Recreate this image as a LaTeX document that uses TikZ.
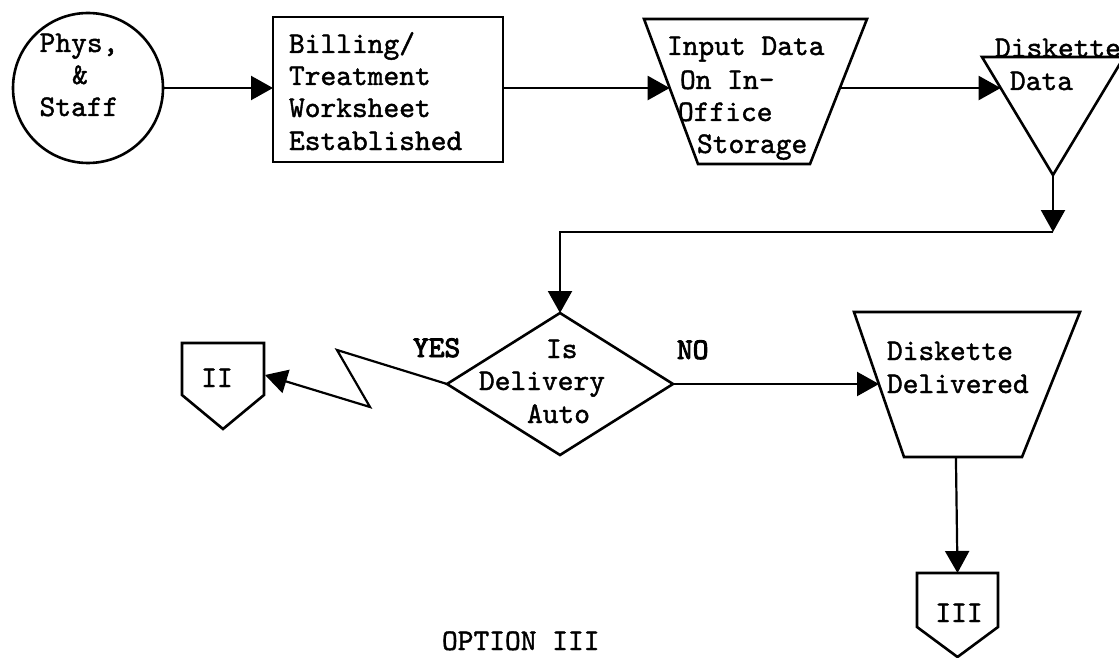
\documentclass[tikz,border=0pt]{standalone}
\usepackage{fontspec}
\usetikzlibrary{arrows.meta,shapes.geometric,calc}
% typewriter faces, slightly emboldened
\newfontfamily\twfont{lmmono10-regular.otf}[FakeBold=1.4]
\newfontfamily\twheavy{lmmono10-regular.otf}[FakeBold=3.2]
\tikzset{
  sym/.style={draw, line width=2.6pt, inner sep=0pt, outer sep=0pt},
  outline/.style={line width=2.6pt, line join=miter},
  frame/.style={inner sep=0pt, outer sep=0pt},
  flow/.style={line width=2.2pt, -{Triangle[length=22pt,width=24pt]}},
  tw/.style={font=\fontsize{30}{32}\selectfont\twfont, inner sep=0pt, outer sep=0pt, anchor=base west},
  yn/.style={tw, font=\fontsize{30}{32}\selectfont\twheavy},
}
\begin{document}
\begin{tikzpicture}[x=1pt,y=-1pt]
\useasboundingbox (0,0) rectangle (1119,658);
\clip (0,0) rectangle (1119,658);

% source terminal
\node[sym, circle, minimum size=150pt] (src) at (88,88) {};
\node[tw, anchor=base] (src1) at (79,52) {Phys,};
\node[tw, anchor=base] (src2) at (80,84) {\&};
\node[tw, anchor=base] (src3) at (79,116) {Staff};

% worksheet process box
\node[sym, rectangle, minimum width=230pt, minimum height=145pt] (work) at (388,89.5) {};
\node[tw] (work1) at (289,53) {Billing/};
\node[tw] (work2) at (289,85) {Treatment};
\node[tw] (work3) at (289,117) {Worksheet};
\node[tw] (work4) at (289,150) {Established};

% manual input (inverted trapezium)
\node[frame, minimum width=223pt, minimum height=145pt] (store) at (755.5,91.5) {};
\coordinate (storebl) at ($(store.south west)+(54,0)$);
\coordinate (storebr) at ($(store.south east)+(-57,0)$);
\draw[outline] (store.north west) -- (store.north east) -- (storebr) -- (storebl) -- cycle;
\coordinate (storein) at ($(store.north west)!0.476!(storebl)$);
\coordinate (storeout) at ($(store.north east)!0.476!(storebr)$);
\node[tw] (store1) at (667,55) {Input Data};
\node[tw] (store2) at (680,89) {On In-};
\node[tw] (store3) at (678,121) {Office};
\node[tw] (store4) at (697,153) {Storage};

% merge / data triangle
\coordinate (dl) at (982,57);
\coordinate (dr) at (1124,57);
\coordinate (dapex) at (1053,175);
\draw[outline] (dl) -- (dr) -- (dapex) -- cycle;
\coordinate (din) at ($(dl)!0.263!(dapex)$);
\node[tw] (disk1) at (995,57) {Diskette};
\node[tw] (disk2) at (1010,90) {Data};

% decision
\node[sym, diamond, minimum width=226pt, minimum height=142pt] (dec) at (560,384) {};
\node[tw] (dec1) at (546,358) {Is};
\node[tw] (dec2) at (479,390) {Delivery};
\node[tw] (dec3) at (527,423) {Auto};
\node[yn] (yes) at (413,357) {YES};
\node[yn] (no) at (677,359) {NO};

% delivery (inverted trapezium)
\node[frame, minimum width=226pt, minimum height=145pt] (dlv) at (967,384.5) {};
\coordinate (dlvbl) at ($(dlv.south west)+(50,0)$);
\coordinate (dlvbr) at ($(dlv.south east)+(-58,0)$);
\draw[outline] (dlv.north west) -- (dlv.north east) -- (dlvbr) -- (dlvbl) -- cycle;
\coordinate (dlvin) at ($(dlv.north west)!0.5!(dlvbl)$);
\coordinate (dlvout) at ($(dlvbl)!0.44!(dlvbr)$);
\node[tw] (dlv1) at (887,360) {Diskette};
\node[tw] (dlv2) at (887,393) {Delivered};

% off-page connector II
\node[frame, minimum width=82pt, minimum height=52pt] (exit2) at (223,369) {};
\draw[outline] (exit2.south west) -- (exit2.north west) -- (exit2.north east)
  -- (exit2.south east) -- ($(exit2.south)+(0,34)$) -- cycle;
\node[tw, anchor=base] (exit2t) at (217,387) {II};

% off-page connector III
\node[frame, minimum width=81pt, minimum height=54pt] (exit3) at (957.5,600) {};
\draw[outline] (exit3.south west) -- (exit3.north west) -- (exit3.north east)
  -- (exit3.south east) -- ($(exit3.south)+(0,30)$) -- cycle;
\node[tw, anchor=base] (exit3t) at (959,622) {III};

% caption
\node[tw] (caption) at (442,650) {OPTION III};

% flow lines
\draw[flow] (src.east) -- (src.east -| work.west);
\draw[flow] (work.east |- storein) -- (storein);
\draw[flow] (storeout) -- (storeout -| din);
\coordinate (drop) at (1053,232);
\draw[flow] (dapex) -- (drop);
\draw[flow] (drop) -| (dec.north);
\coordinate (zz1) at (337,350);
\coordinate (zz2) at (370,407);
\coordinate (x2in) at ($(exit2.east)+(1,6)$);
\draw[flow] (dec.west) -- (zz1) -- (zz2) -- (x2in);
\draw[flow] (dec.east) -- (dec.east -| dlvin);
\draw[flow] (dlvout) -- (exit3.north);
\end{tikzpicture}
\end{document}
